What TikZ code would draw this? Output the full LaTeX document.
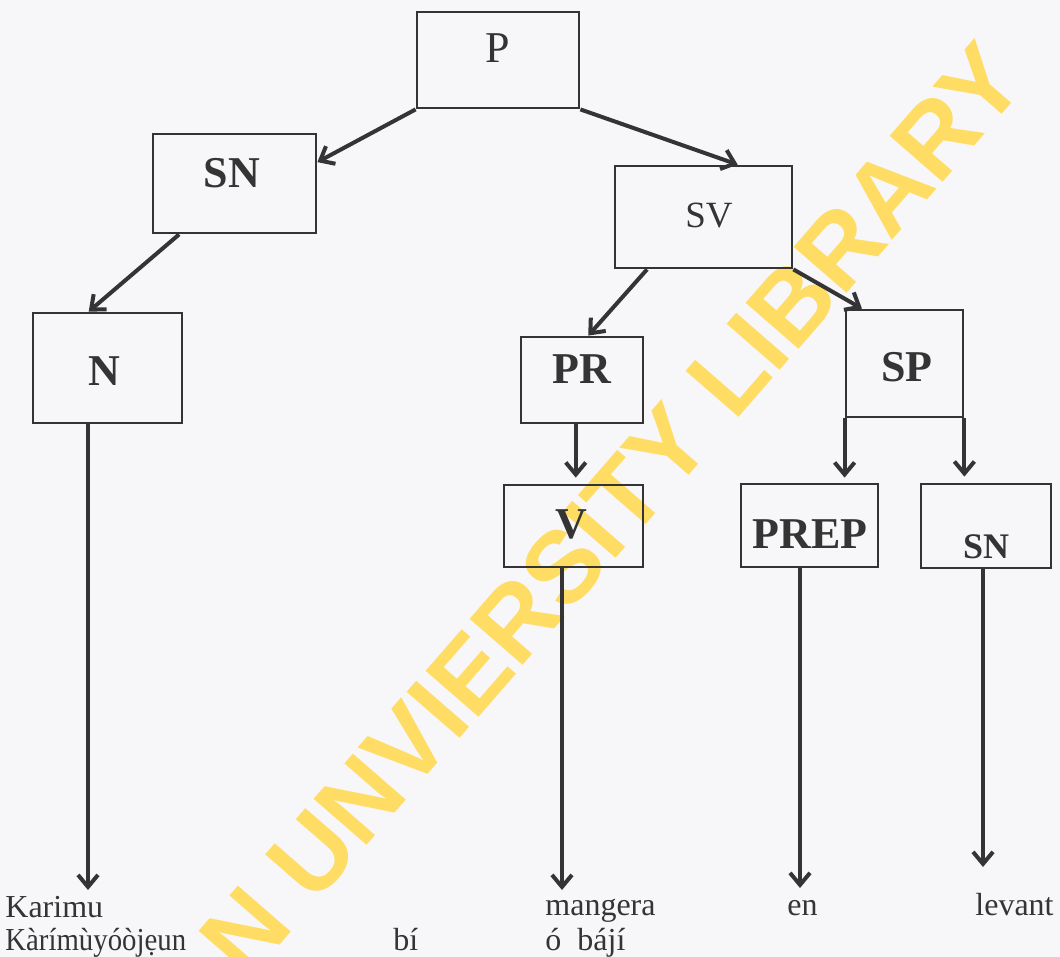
\documentclass[tikz,border=0pt]{standalone}
\usepackage{fontspec}
\setmainfont{Liberation Serif}
\newfontfamily\wmfont{Liberation Sans}
\usetikzlibrary{arrows.meta,calc}
\definecolor{ink}{RGB}{52,52,52}
\definecolor{paper}{RGB}{247,247,249}
\definecolor{wmark}{RGB}{255,221,100}
\begin{document}
\begin{tikzpicture}[x=0.5pt,y=-0.5pt,
  box/.style={draw=ink, line width=1.4pt, rectangle, inner sep=0pt},
  arr/.style={draw=ink, line width=2pt, -{Straight Barb[length=6pt,width=10pt]}},
  lab/.style={text=ink, font=\bfseries\fontsize{22}{26}\selectfont, anchor=base, inner sep=0pt},
  word/.style={text=ink, font=\fontsize{16}{19}\selectfont, anchor=base west, inner sep=0pt},
  wm/.style={text=wmark, font=\wmfont\bfseries\fontsize{51}{60}\selectfont, rotate=49, inner sep=0pt},
]
\fill[paper] (0,0) rectangle (1060,957);
\useasboundingbox (0,0) rectangle (1060,957);
\begin{scope}
\clip (0,0) rectangle (1060,957);
\node[wm] (wm) at (612,510) {N UNVIERSITY LIBRARY};
\end{scope}

% boxes
\node[box, minimum width=81pt, minimum height=48pt] (p) at (498,60) {};
\node[lab, font=\fontsize{22}{26}\selectfont] (pl) at (498,63) {P};
\node[box, minimum width=81.5pt, minimum height=49.5pt] (sn) at (234.5,183.5) {};
\node[lab] (snl) at (232,188) {SN};
\node[box, minimum width=74.5pt, minimum height=55pt] (n) at (107.5,368) {};
\node[lab] (nl) at (104,385) {N};
\node[box, minimum width=88.5pt, minimum height=51pt] (sv) at (703.5,217) {};
\node[lab, font=\fontsize{18.5}{22}\selectfont] (svl) at (709,228) {SV};
\node[box, minimum width=61pt, minimum height=43pt] (pr) at (582,380) {};
\node[lab] (prl) at (582,383) {PR};
\node[box, minimum width=58.5pt, minimum height=53.5pt] (sp) at (904.5,363.5) {};
\node[lab] (spl) at (907,381) {SP};
\node[box, minimum width=69.5pt, minimum height=41pt] (v) at (573.5,526) {};
\node[lab] (vl) at (571,538) {V};
\node[box, minimum width=68.5pt, minimum height=41.5pt] (prep) at (809.5,525.5) {};
\node[lab] (prepl) at (810,548) {PREP};
\node[box, minimum width=65pt, minimum height=42pt] (sn2) at (986,526) {};
\node[lab, font=\bfseries\fontsize{18}{22}\selectfont] (sn2l) at (986,558) {SN};

% connectors
\draw[arr] (p.south west) -- ($(sn.north east)!0.29!(sn.south east)$);
\draw[arr] (p.south east) -- ($(sv.north west)!0.69!(sv.north east)$);
\draw[arr] ($(sn.south west)!0.166!(sn.south east)$) -- ($(n.north west)!0.376!(n.north east)$);
\draw[arr] ($(sv.south west)!0.186!(sv.south east)$) -- ($(pr.north west)!0.55!(pr.north east)$);
\draw[arr] (sv.south east) -- ($(sp.north west)!0.145!(sp.north east)$);
\coordinate (prb) at ($(pr.south west)!0.45!(pr.south east)$);
\draw[arr, shorten >=3pt] (prb) -- (prb |- v.north);
\draw[arr, shorten >=2.5pt] (sp.south west) -- (sp.south west |- prep.north);
\draw[arr, shorten >=3pt] (sp.south east) -- (sp.south east |- sn2.north);

\coordinate (t1) at (88,890);
\coordinate (t2) at (562,890);
\coordinate (t3) at (800,888);
\coordinate (t4) at (983,867);
\draw[arr] (n.south -| t1) -- (t1);
\draw[arr] (v.south -| t2) -- (t2);
\draw[arr] (prep.south -| t3) -- (t3);
\draw[arr] (sn2.south -| t4) -- (t4);

% words
\node[word] (w1) at (5,917) {Karimu};
\node[word] (w2) at (5,950) {\scalebox{0.9}[1]{Kàrímùyóòjẹun}};
\node[word] (w3) at (393,950) {bí};
\node[word] (w4) at (545,915) {mangera};
\node[word] (w5) at (545,950) {ó\hspace{0.5em}bájí};
\node[word] (w6) at (787,915) {en};
\node[word] (w7) at (975,915) {levant};
\end{tikzpicture}
\end{document}
